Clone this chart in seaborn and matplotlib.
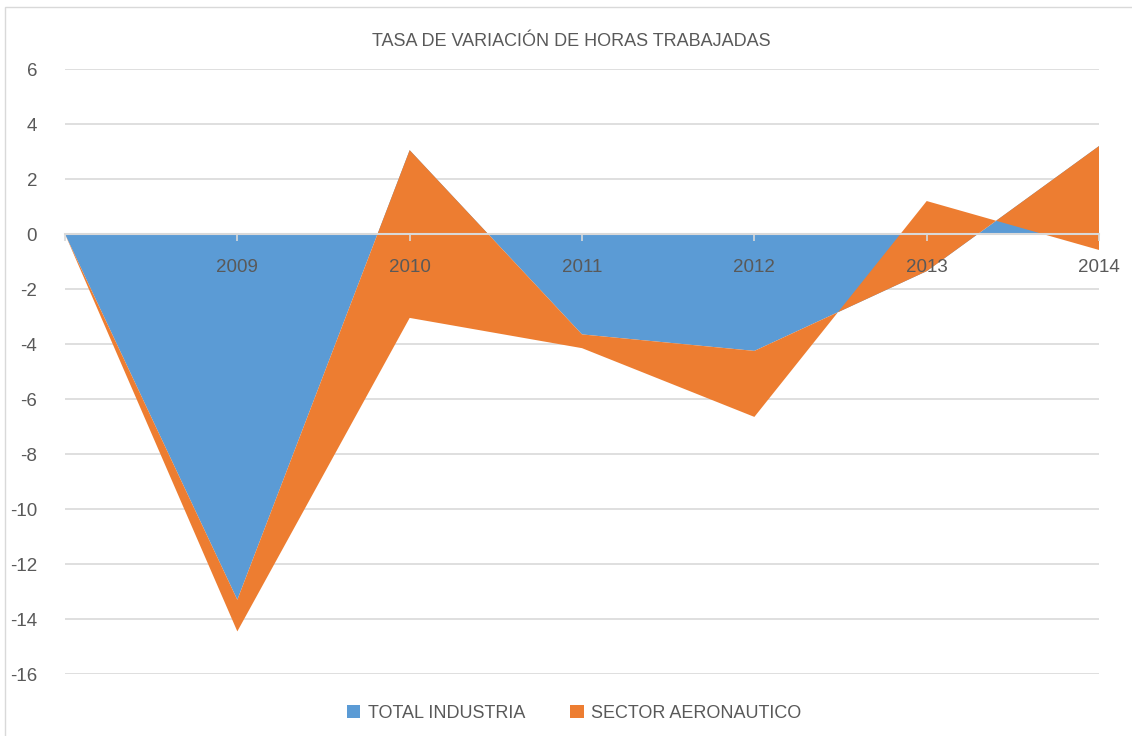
import numpy as np
import pandas as pd
import matplotlib.pyplot as plt
import matplotlib.patches as mpatches
import seaborn as sns

years = ["", "2009", "2010", "2011", "2012", "2013", "2014"]
total_industria = [0, -13.3, 3.05, -3.65, -4.25, -1.35, 3.2]
sector_aeronautico = [0, -1.15, -6.1, -0.5, -2.4, 2.55, -3.78]
y_ticks = [6, 4, 2, 0, -2, -4, -6, -8, -10, -12, -14, -16]

BLUE = "#5B9BD5"
ORANGE = "#ED7D31"
GREY = "#595959"

sns.set_theme(style="white")
plt.rcParams["font.family"] = ["Liberation Sans", "DejaVu Sans"]
plt.rcParams["axes.unicode_minus"] = False

df = pd.DataFrame({"year": years, "TOTAL INDUSTRIA": total_industria,
                   "SECTOR AERONAUTICO": sector_aeronautico})
x = np.arange(len(df))

fig = plt.figure(figsize=(11.32, 7.36), dpi=100)
ax = fig.add_axes([0.0574, 0.0842, 0.9135, 0.822])

# Excel stacked area: orange sits on top of the blue series
ax.stackplot(x, df["TOTAL INDUSTRIA"], df["SECTOR AERONAUTICO"],
             colors=[BLUE, ORANGE], labels=["TOTAL INDUSTRIA", "SECTOR AERONAUTICO"],
             linewidth=0, edgecolor="none", antialiased=True, zorder=1)

for t in y_ticks:
    if t != 0:
        ax.axhline(t, color="#d9d9d9", lw=1.2, zorder=0)

ax.set_xlim(0, len(df) - 1)
ax.set_ylim(-16, 6)
ax.set_yticks(y_ticks)
ax.set_axisbelow(False)

sns.despine(ax=ax, left=True, top=True, right=True)
ax.spines["bottom"].set_position(("data", 0))
ax.spines["bottom"].set_color("#d9d9d9")
ax.spines["bottom"].set_linewidth(1.5)

ax.set_xticks(x)
ax.set_xticklabels(df["year"])
ax.tick_params(axis="x", direction="out", length=5, width=1.2, color="#d9d9d9",
               labelsize=13.5, labelcolor=GREY, pad=13, bottom=True)
ax.tick_params(axis="y", length=0, labelsize=13.5, labelcolor=GREY, pad=20)

fig.suptitle("TASA DE VARIACIÓN DE HORAS TRABAJADAS", y=0.955, x=0.505,
             fontsize=13, color=GREY)

fig.legend(*ax.get_legend_handles_labels(), loc="lower center", ncol=2,
           bbox_to_anchor=(0.507, -0.003), frameon=False, fontsize=13,
           labelcolor=GREY, handlelength=0.75, handleheight=0.75,
           handletextpad=0.4, columnspacing=2.5)

fig.patches.append(mpatches.Rectangle((0.004, -0.01), 1.0, 1.0,
                                      transform=fig.transFigure, fill=False,
                                      edgecolor="#d9d9d9", lw=1))

fig.savefig("out.png", dpi=100)
